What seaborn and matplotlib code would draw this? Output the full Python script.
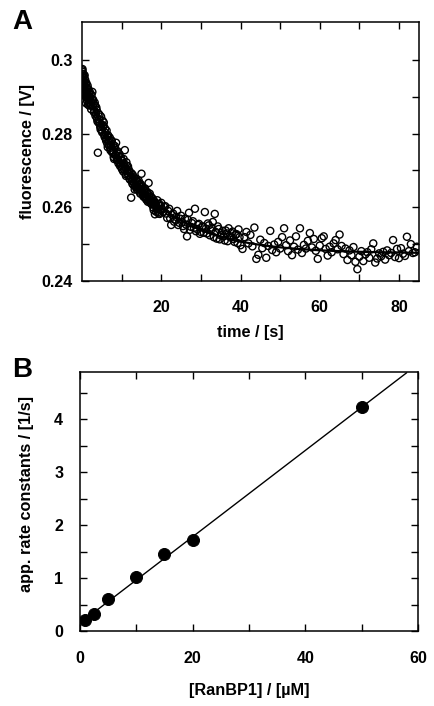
import matplotlib
matplotlib.use('Agg')
import matplotlib.pyplot as plt
import matplotlib.ticker as ticker
import seaborn as sns
import numpy as np
import pandas as pd

# panel A: fluorescence trace
time_early = [0.05, 0.1, 0.15, 0.2, 0.3, 0.4, 0.5, 0.6, 0.7, 0.8,
              0.9, 1.0, 1.1, 1.2, 1.3, 1.4, 1.5, 1.6, 1.7, 1.8,
              1.9, 2.0, 2.2, 2.4, 2.6, 2.8, 3.0, 3.2, 3.4, 3.6,
              3.8, 4.0, 4.2, 4.4, 4.6, 4.8, 5.0, 5.2, 5.4, 5.6,
              5.8, 6.0, 6.2, 6.4, 6.6, 6.8, 7.0, 7.2, 7.4, 7.6,
              7.8, 8.0, 8.2, 8.4, 8.6, 8.8, 9.0, 9.2, 9.4, 9.6,
              9.8, 10.0, 10.2, 10.4, 10.6, 10.8, 11.0, 11.2, 11.4, 11.6,
              11.8, 12.0, 12.2, 12.4, 12.6, 12.8, 13.0, 13.2, 13.4, 13.6,
              13.8, 14.0, 14.2, 14.4, 14.6, 14.8, 15.0, 15.2, 15.4, 15.6,
              15.8, 16.0, 16.2, 16.4, 16.6, 16.8, 17.0, 17.2, 17.4, 17.6,
              17.8, 18.0, 18.2, 18.4, 18.6, 18.8, 19.0, 19.2, 19.4, 19.6]
fluor_early = [0.2972, 0.2968, 0.2948, 0.2935, 0.2962, 0.2921, 0.2955, 0.2940, 0.2912, 0.2946,
               0.2926, 0.2898, 0.2937, 0.2915, 0.2889, 0.2930, 0.2906, 0.2921, 0.2884, 0.2911,
               0.2895, 0.2912, 0.2878, 0.2905, 0.2913, 0.2892, 0.2858, 0.2884, 0.2848, 0.2871,
               0.2840, 0.2748, 0.2829, 0.2851, 0.2818, 0.2846, 0.2809, 0.2835, 0.2822, 0.2797,
               0.2814, 0.2785, 0.2808, 0.2772, 0.2795, 0.2768, 0.2789, 0.2754, 0.2779, 0.2749,
               0.2770, 0.2736, 0.2762, 0.2741, 0.2775, 0.2728, 0.2752, 0.2719, 0.2745, 0.2712,
               0.2735, 0.2708, 0.2726, 0.2697, 0.2718, 0.2755, 0.2690, 0.2722, 0.2699, 0.2711,
               0.2702, 0.2678, 0.2694, 0.2626, 0.2671, 0.2688, 0.2660, 0.2681, 0.2657, 0.2672,
               0.2649, 0.2670, 0.2655, 0.2661, 0.2642, 0.2663, 0.2691, 0.2657, 0.2634, 0.2648,
               0.2627, 0.2645, 0.2621, 0.2638, 0.2615, 0.2666, 0.2632, 0.2612, 0.2629, 0.2608,
               0.2624, 0.2599, 0.2617, 0.2581, 0.2610, 0.2594, 0.2619, 0.2587, 0.2605, 0.2582]
time_early2 = [0.02, 0.08, 0.12, 0.18, 0.25, 0.35, 0.45, 0.55, 0.65, 0.75,
               0.85, 0.95, 1.05, 1.15, 1.25, 1.35, 1.45, 1.55, 1.65, 1.75,
               1.85, 1.95, 2.1, 2.3, 2.5, 2.7, 2.9, 3.1, 3.3, 3.5,
               3.7, 3.9, 4.1, 4.3, 4.5, 4.7, 4.9, 5.1, 5.3, 5.5,
               5.7, 5.9, 6.1, 6.3, 6.5, 6.7, 6.9, 7.1, 7.3, 7.5,
               7.7, 7.9, 8.1, 8.3, 8.5, 8.7, 8.9, 9.1, 9.3, 9.5,
               9.7, 9.9, 10.1, 10.3, 10.5, 10.7, 10.9, 11.1, 11.3, 11.5,
               11.7, 11.9, 12.1, 12.3, 12.5, 12.7, 12.9, 13.1, 13.3, 13.5,
               13.7, 13.9, 14.1, 14.3, 14.5, 14.7, 14.9, 15.1, 15.3, 15.5,
               15.7, 15.9, 16.1, 16.3, 16.5, 16.7, 16.9, 17.1, 17.3, 17.5,
               17.7, 17.9, 18.1, 18.3, 18.5, 18.7, 18.9, 19.1, 19.3, 19.5, 19.7, 19.9]
fluor_early2 = [0.2958, 0.2942, 0.2975, 0.2925, 0.2951, 0.2938, 0.2910, 0.2929, 0.2958, 0.2903,
                0.2935, 0.2917, 0.2882, 0.2924, 0.2903, 0.2911, 0.2895, 0.2878, 0.2902, 0.2893,
                0.2876, 0.2899, 0.2889, 0.2866, 0.2893, 0.2874, 0.2881, 0.2862, 0.2876, 0.2853,
                0.2864, 0.2833, 0.2855, 0.2838, 0.2829, 0.2811, 0.2825, 0.2803, 0.2818, 0.2830,
                0.2791, 0.2802, 0.2780, 0.2793, 0.2763, 0.2783, 0.2775, 0.2761, 0.2768, 0.2781,
                0.2755, 0.2748, 0.2731, 0.2766, 0.2742, 0.2750, 0.2733, 0.2727, 0.2739, 0.2722,
                0.2716, 0.2729, 0.2703, 0.2713, 0.2731, 0.2702, 0.2708, 0.2685, 0.2713, 0.2692,
                0.2686, 0.2697, 0.2675, 0.2683, 0.2692, 0.2664, 0.2677, 0.2669, 0.2648, 0.2676,
                0.2661, 0.2654, 0.2648, 0.2672, 0.2651, 0.2637, 0.2656, 0.2643, 0.2649, 0.2629,
                0.2636, 0.2651, 0.2630, 0.2624, 0.2641, 0.2619, 0.2628, 0.2637, 0.2613, 0.2620,
                0.2610, 0.2615, 0.2592, 0.2606, 0.2612, 0.2588, 0.2601, 0.2597, 0.2583, 0.2609, 0.2593, 0.2603]
time_late = [20.0, 20.5, 21.0, 21.5, 22.0, 22.5, 23.0, 23.5, 24.0, 24.5,
             25.0, 25.5, 26.0, 26.5, 27.0, 27.5, 28.0, 28.5, 29.0, 29.5,
             30.0, 30.5, 31.0, 31.5, 32.0, 32.5, 33.0, 33.5, 34.0, 34.5,
             35.0, 35.5, 36.0, 36.5, 37.0, 37.5, 38.0, 38.5, 39.0, 39.5,
             40.0, 40.5, 41.0, 41.5, 42.0, 42.5, 43.0, 43.5, 44.0, 44.5,
             45.0, 45.5, 46.0, 46.5, 47.0, 47.5, 48.0, 48.5, 49.0, 49.5,
             50.0, 50.5, 51.0, 51.5, 52.0, 52.5, 53.0, 53.5, 54.0, 54.5,
             55.0, 55.5, 56.0, 56.5, 57.0, 57.5, 58.0, 58.5, 59.0, 59.5,
             60.0, 60.5, 61.0, 61.5, 62.0, 62.5, 63.0, 63.5, 64.0, 64.5,
             65.0, 65.5, 66.0, 66.5, 67.0, 67.5, 68.0, 68.5, 69.0, 69.5,
             70.0, 70.5, 71.0, 71.5, 72.0, 72.5, 73.0, 73.5, 74.0, 74.5,
             75.0, 75.5, 76.0, 76.5, 77.0, 77.5, 78.0, 78.5, 79.0, 79.5,
             80.0, 80.5, 81.0, 81.5, 82.0, 82.5, 83.0, 83.5, 84.0, 84.5]
fluor_late = [0.2612, 0.2588, 0.2603, 0.2571, 0.2596, 0.2552, 0.2583, 0.2566, 0.2590, 0.2558,
              0.2577, 0.2549, 0.2569, 0.2521, 0.2585, 0.2547, 0.2562, 0.2596, 0.2541, 0.2555,
              0.2533, 0.2548, 0.2587, 0.2529, 0.2551, 0.2537, 0.2560, 0.2582, 0.2515, 0.2541,
              0.2524, 0.2536, 0.2510, 0.2529, 0.2543, 0.2518, 0.2534, 0.2506, 0.2527, 0.2540,
              0.2497, 0.2487, 0.2519, 0.2533, 0.2502, 0.2525, 0.2494, 0.2545, 0.2460, 0.2471,
              0.2512, 0.2489, 0.2503, 0.2463, 0.2495, 0.2536, 0.2484, 0.2499, 0.2478, 0.2506,
              0.2488, 0.2519, 0.2543, 0.2497, 0.2481, 0.2510, 0.2470, 0.2493, 0.2521, 0.2485,
              0.2543, 0.2476, 0.2498, 0.2488, 0.2509, 0.2530, 0.2491, 0.2514, 0.2482, 0.2460,
              0.2496, 0.2516, 0.2521, 0.2487, 0.2469, 0.2493, 0.2478, 0.2502, 0.2511, 0.2486,
              0.2526, 0.2495, 0.2473, 0.2488, 0.2457, 0.2483, 0.2470, 0.2492, 0.2452, 0.2432,
              0.2466, 0.2481, 0.2454, 0.2472, 0.2478, 0.2463, 0.2486, 0.2502, 0.2450, 0.2461,
              0.2475, 0.2467, 0.2479, 0.2458, 0.2483, 0.2470, 0.2476, 0.2511, 0.2465, 0.2487,
              0.2462, 0.2489, 0.2474, 0.2468, 0.2520, 0.2481, 0.2500, 0.2476, 0.2478, 0.2493]
time_late2 = [20.25, 20.75, 21.25, 21.75, 22.25, 22.75, 23.25, 23.75, 24.25, 24.75,
              25.25, 25.75, 26.25, 26.75, 27.25, 27.75, 28.25, 28.75, 29.25, 29.75,
              30.25, 30.75, 31.25, 31.75, 32.25, 32.75, 33.25, 33.75, 34.25, 34.75,
              35.25, 35.75, 36.25, 36.75, 37.25, 37.75, 38.25, 38.75, 39.25, 39.75]
fluor_late2 = [0.2594, 0.2601, 0.2583, 0.2590, 0.2570, 0.2579, 0.2561, 0.2574, 0.2552, 0.2569,
               0.2560, 0.2541, 0.2553, 0.2566, 0.2539, 0.2557, 0.2544, 0.2535, 0.2552, 0.2528,
               0.2547, 0.2531, 0.2542, 0.2556, 0.2524, 0.2545, 0.2519, 0.2533, 0.2548, 0.2513,
               0.2530, 0.2521, 0.2537, 0.2508, 0.2522, 0.2530, 0.2514, 0.2526, 0.2503, 0.2519]
# single exponential fit
fit_offset, fit_amp, fit_tau = 0.2475, 0.0485, 14.75

# panel B: rate constants
ranbp1_um = [1, 2.5, 5, 10, 15, 20, 50]
k_app = [0.22, 0.32, 0.60, 1.02, 1.45, 1.72, 4.23]
lin_slope, lin_icept = 0.0815, 0.15
lin_range = (0.5, 58.0)

sns.set_style('ticks')
plt.rcParams['font.family'] = ['Liberation Sans', 'DejaVu Sans']
plt.rcParams['font.weight'] = 'bold'
plt.rcParams['axes.linewidth'] = 1.1
for key in ('text.color', 'axes.labelcolor', 'xtick.color', 'ytick.color', 'axes.edgecolor'):
    plt.rcParams[key] = 'black'

fig = plt.figure(figsize=(4.34, 7.06), dpi=100)
axA = fig.add_axes([0.189, 0.602, 0.776, 0.367])
axB = fig.add_axes([0.184, 0.106, 0.779, 0.367])

trace = pd.DataFrame({'t': time_early + time_early2 + time_late + time_late2,
                      'f': fluor_early + fluor_early2 + fluor_late + fluor_late2})
sns.scatterplot(data=trace, x='t', y='f', ax=axA, marker='o', s=26,
                facecolor='none', edgecolor='black', linewidth=1.0)
tt = np.linspace(0, 85, 300)
sns.lineplot(x=tt, y=fit_offset + fit_amp * np.exp(-tt / fit_tau), ax=axA,
             color='black', linewidth=1.6)
axA.set_xlim(0, 85)
axA.set_ylim(0.24, 0.3103)
axA.xaxis.set_major_locator(ticker.FixedLocator([20, 40, 60, 80]))
axA.xaxis.set_minor_locator(ticker.FixedLocator([10, 30, 50, 70]))
axA.yaxis.set_major_locator(ticker.FixedLocator([0.24, 0.26, 0.28, 0.30]))
axA.yaxis.set_minor_locator(ticker.FixedLocator([0.25, 0.27, 0.29]))
axA.yaxis.set_major_formatter(ticker.FuncFormatter(lambda v, p: '%g' % round(v, 3)))
axA.set_xlabel('time / [s]', fontsize=11.7, fontweight='bold', va='center')
axA.set_ylabel('fluorescence / [V]', fontsize=11.7, fontweight='bold', va='center')
axA.xaxis.set_label_coords(0.5, -0.20)
axA.yaxis.set_label_coords(-0.163, 0.5)
axA.tick_params(axis='y', pad=7)

lin = pd.DataFrame({'c': ranbp1_um, 'k': k_app})
xx = np.linspace(lin_range[0], lin_range[1], 50)
sns.lineplot(x=xx, y=lin_icept + lin_slope * xx, ax=axB, color='black', linewidth=1.0)
sns.scatterplot(data=lin, x='c', y='k', ax=axB, marker='o', s=75,
                color='black', edgecolor='black', zorder=3)
axB.set_xlim(0, 60)
axB.set_ylim(0, 4.89)
axB.xaxis.set_major_locator(ticker.MultipleLocator(20))
axB.xaxis.set_minor_locator(ticker.MultipleLocator(10))
axB.yaxis.set_major_locator(ticker.MultipleLocator(1))
axB.yaxis.set_minor_locator(ticker.MultipleLocator(0.5))
axB.set_xlabel('[RanBP1] / [µM]', fontsize=11.7, fontweight='bold', va='center')
axB.set_ylabel('app. rate constants / [1/s]', fontsize=11.7, fontweight='bold', va='center')
axB.xaxis.set_label_coords(0.5, -0.228)
axB.yaxis.set_label_coords(-0.157, 0.53)
axB.tick_params(axis='y', pad=12)

for ax in (axA, axB):
    ax.tick_params(which='both', direction='in', top=True, right=True,
                   length=5, width=1.0, labelsize=11.5, colors='black')
    ax.tick_params(axis='x', pad=14)
    for lab in ax.get_xticklabels() + ax.get_yticklabels():
        lab.set_fontweight('bold')

fig.text(22 / 434, 1 - 22 / 706, 'A', fontsize=20, fontweight='bold', ha='center', va='center')
fig.text(22 / 434, 1 - 370 / 706, 'B', fontsize=20, fontweight='bold', ha='center', va='center')

fig.savefig('out.png', dpi=100)
